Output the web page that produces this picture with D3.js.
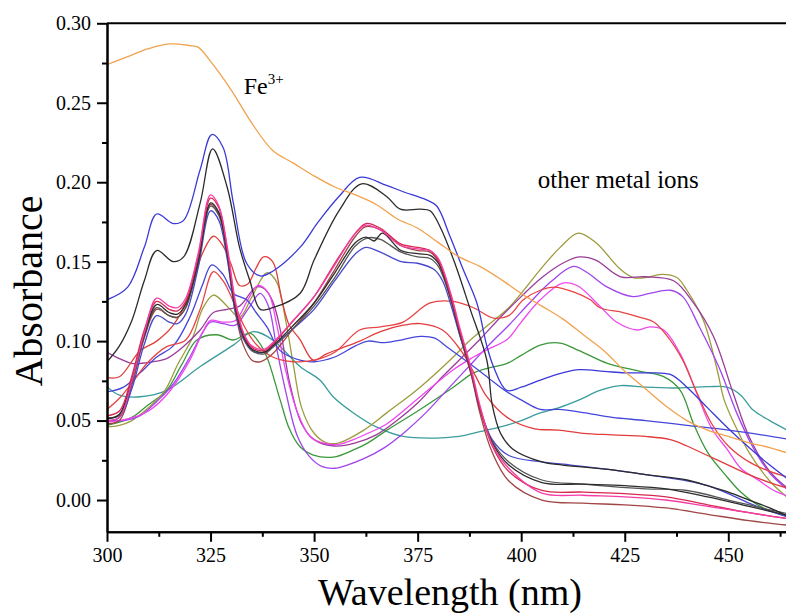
<!DOCTYPE html>
<html>
<head>
<meta charset="utf-8">
<script src="https://cdn.jsdelivr.net/npm/d3@7"></script>
<style>
  body { margin: 0; background: #fff; }
  svg { display: block; }
  .tick text { font-family: "Liberation Serif", "Times New Roman", serif; font-size: 20px; fill: #000; }
  .axis path, .axis line { stroke: #000; stroke-width: 2; }
</style>
</head>
<body>
<script>
// ------------  DATA  (wavelength nm, absorbance)  ------------
const fe3 = [[300,0.274],[305,0.279],[310,0.284],[315,0.287],[320,0.286],[322,0.285],[325,0.276],[330,0.258],[335,0.237],[340,0.220],[345,0.212],[350,0.204],[355,0.197],[360,0.192],[365,0.186],[370,0.177],[375,0.171],[380,0.162],[385,0.153],[390,0.147],[395,0.139],[400,0.130],[405,0.122],[410,0.114],[415,0.104],[420,0.094],[425,0.081],[430,0.070],[435,0.059],[440,0.050],[445,0.044],[450,0.040],[455,0.036],[460,0.033],[465,0.029]];

const blueTop = [[300,0.126],[305,0.134],[309,0.159],[312,0.180],[316,0.174],[318.5,0.176],[322.5,0.208],[325.3,0.230],[328,0.222],[330.5,0.187],[333.7,0.149],[337,0.141],[340,0.144],[346.6,0.159],[351,0.175],[356,0.191],[361,0.203],[367.5,0.198],[371.5,0.194],[377,0.189],[379.6,0.185],[382.8,0.166],[386,0.145],[389.3,0.124],[391.7,0.097],[393.3,0.084],[396.5,0.069],[400,0.071],[404.6,0.0755],[410,0.080],[414,0.082],[420,0.081],[425,0.080],[430,0.080],[436,0.079],[440,0.071],[445,0.058],[450,0.045],[455,0.033],[460,0.022],[465,0.012]];

const blackTop = [[300,0.087],[303,0.097],[306,0.113],[309,0.138],[312,0.157],[316,0.150],[318.5,0.153],[322.5,0.187],[325.5,0.221],[329,0.197],[332,0.159],[334.5,0.138],[337,0.120],[340,0.121],[346.6,0.130],[350,0.151],[356,0.182],[361.5,0.199],[367.5,0.191],[370.8,0.183],[375.6,0.183],[378,0.182],[380.4,0.172],[383.7,0.151],[387.7,0.120],[391.7,0.088],[393,0.060],[395,0.042],[398,0.032],[405,0.024],[410,0.022],[422,0.019],[430,0.016],[440,0.0126],[445,0.009],[450,0.005],[455,0.000],[460,-0.005],[465,-0.011]];

const pinkA = [[300,0.050],[303,0.052],[306,0.075],[309,0.105],[312,0.127],[315,0.122],[317,0.121],[319,0.127],[322,0.155],[325,0.192],[327,0.185],[329,0.160],[331,0.125],[333,0.105],[335,0.097],[338,0.095],[340,0.099],[345,0.113],[350,0.128],[355,0.148],[360,0.168],[362.5,0.173],[366,0.170],[371,0.160],[375,0.158],[378,0.157],[380,0.152],[383,0.130],[385,0.110],[388,0.082],[390,0.060],[393,0.035],[397,0.020],[405,0.0044],[415,0.003],[425,0.002],[435,0.000],[445,-0.004],[455,-0.008],[465,-0.012]];

const crimsonA = [[300,0.053],[303,0.056],[306,0.078],[309,0.107],[312,0.125],[315,0.120],[317,0.119],[319,0.125],[322,0.153],[325,0.190],[327,0.184],[329,0.158],[331,0.123],[333,0.104],[335,0.096],[338,0.094],[340,0.098],[345,0.113],[350,0.128],[355,0.149],[360,0.168],[362.5,0.174],[366,0.171],[371,0.161],[375,0.159],[378,0.157],[380,0.151],[383,0.128],[385,0.108],[388,0.080],[390,0.058],[393,0.034],[397,0.018],[405,0.006],[415,0.005],[425,0.004],[435,0.002],[445,-0.003],[455,-0.008],[465,-0.012]];

const blackA = [[300,0.051],[303,0.054],[306,0.076],[309,0.104],[312,0.123],[315,0.118],[317,0.117],[319,0.123],[322,0.150],[325,0.187],[327,0.181],[329,0.156],[331,0.121],[333,0.103],[335,0.095],[338,0.093],[340,0.097],[345,0.110],[350,0.124],[355,0.143],[360,0.162],[362.5,0.1655],[364.5,0.163],[366.5,0.168],[371,0.157],[375,0.155],[378,0.154],[380,0.149],[383,0.127],[385,0.107],[388,0.080],[390,0.058],[393,0.036],[397,0.022],[405,0.011],[415,0.010],[425,0.009],[435,0.007],[445,0.002],[455,-0.004],[465,-0.010]];

const grayA = [[300,0.052],[303,0.053],[306,0.074],[309,0.103],[312,0.121],[315,0.116],[317,0.115],[319,0.121],[322,0.149],[325,0.185],[327,0.179],[329,0.155],[331,0.120],[333,0.102],[335,0.094],[338,0.092],[340,0.096],[345,0.108],[350,0.122],[355,0.140],[360,0.160],[363,0.165],[366,0.164],[371,0.156],[375,0.153],[378,0.152],[380,0.147],[383,0.126],[385,0.106],[388,0.079],[390,0.058],[393,0.037],[397,0.024],[405,0.0126],[415,0.010],[422,0.0084],[430,0.007],[440,0.006],[450,0.000],[458,-0.005],[465,-0.009]];

const blueA = [[300,0.050],[303,0.052],[306,0.070],[309,0.098],[312,0.116],[315,0.112],[317,0.111],[319,0.117],[322,0.146],[325,0.182],[327,0.176],[329,0.152],[331,0.118],[333,0.101],[335,0.094],[338,0.093],[340,0.097],[345,0.108],[350,0.120],[355,0.138],[360,0.155],[362.5,0.159],[366,0.156],[371,0.150],[375,0.149],[379,0.145],[381,0.138],[383,0.123],[385,0.105],[388,0.079],[390,0.058],[393,0.038],[397,0.028],[405,0.024],[412,0.022],[422,0.019],[430,0.016],[440,0.012],[445,0.009],[450,0.004],[455,-0.002],[460,-0.007],[465,-0.011]];

const brownA = [[300,0.048],[303,0.050],[306,0.072],[309,0.102],[312,0.120],[315,0.116],[317,0.115],[319,0.121],[322,0.150],[325,0.186],[327,0.180],[329,0.154],[331,0.118],[333,0.097],[335,0.088],[337,0.087],[340,0.092],[345,0.108],[350,0.124],[355,0.145],[360,0.166],[362.5,0.172],[366,0.170],[371,0.160],[375,0.157],[378,0.156],[380,0.150],[383,0.127],[385,0.106],[388,0.078],[390,0.055],[393,0.030],[397,0.012],[405,0.000],[415,-0.002],[425,-0.003],[435,-0.005],[445,-0.009],[455,-0.013],[465,-0.016]];

const redB1 = [[300,0.077],[303,0.0776],[308,0.094],[312,0.100],[316,0.110],[320,0.130],[323,0.155],[325.7,0.166],[328,0.160],[330,0.148],[332,0.135],[334,0.136],[336,0.146],[337.8,0.153],[340,0.150],[342.2,0.126],[344,0.110],[346.6,0.101],[349.8,0.088],[353,0.092],[356,0.095],[361,0.100],[366,0.106],[371.5,0.110],[375.6,0.111],[381,0.107],[386,0.092],[389,0.078],[391.7,0.065],[396.6,0.052],[403,0.045],[409,0.044],[415,0.042],[422,0.041],[430,0.040],[436,0.038],[440,0.034],[445,0.028],[450,0.022],[455,0.016],[460,0.011],[465,0.007]];

const redB2 = [[300,0.057],[303,0.064],[306,0.0736],[310,0.087],[314.4,0.0965],[319,0.1007],[322.5,0.120],[325.7,0.1437],[328,0.138],[330.5,0.125],[333,0.110],[336,0.098],[340,0.090],[345,0.087],[350,0.088],[355,0.093],[361,0.107],[366,0.109],[371.5,0.112],[378,0.124],[383.6,0.125],[388.5,0.121],[393.3,0.1145],[397,0.116],[400.5,0.126],[404.6,0.132],[408,0.134],[412.6,0.131],[416.7,0.126],[419,0.121],[424.6,0.118],[428.7,0.115],[432,0.112],[435.3,0.103],[439,0.088],[442.5,0.067],[446,0.048],[450,0.034],[455,0.024],[460,0.018],[465,0.014]];

const blueB = [[300,0.068],[304,0.071],[308,0.080],[312,0.090],[316,0.097],[320,0.115],[323,0.135],[325.3,0.148],[328,0.142],[330.5,0.130],[333.7,0.126],[336,0.118],[338.6,0.109],[341.8,0.094],[346.6,0.088],[350,0.087],[355,0.090],[360,0.097],[363,0.100],[367,0.099],[371.5,0.101],[375.6,0.103],[379,0.102],[382,0.0965],[387,0.087],[392,0.077],[396.6,0.068],[400,0.063],[404.6,0.057],[409,0.057],[415,0.055],[422,0.052],[430,0.050],[440,0.047],[450,0.044],[458,0.041],[465,0.038]];

const teal = [[300,0.0713],[303,0.066],[308,0.065],[314.4,0.069],[322.5,0.084],[330.5,0.0975],[335.3,0.106],[340,0.1007],[346.6,0.084],[351.4,0.0755],[354.6,0.065],[359.5,0.0548],[365,0.046],[371.5,0.040],[379.7,0.039],[385,0.040],[390,0.043],[395,0.046],[400,0.050],[404.6,0.0548],[409,0.058],[414,0.063],[419,0.069],[424,0.072],[430,0.071],[436.7,0.0705],[445,0.0713],[449.7,0.071],[453,0.066],[456,0.0566],[460,0.050],[465,0.043]];

const olive = [[300,0.046],[303,0.047],[306,0.050],[310,0.058],[314,0.069],[317,0.085],[320.8,0.103],[323,0.120],[325.7,0.129],[329,0.122],[332,0.115],[335,0.128],[338.6,0.143],[341,0.137],[343,0.115],[345,0.085],[347,0.058],[350,0.042],[353,0.036],[356,0.036],[362,0.044],[367.6,0.055],[375.6,0.071],[383.6,0.090],[387,0.099],[391,0.108],[396.6,0.120],[400,0.130],[404.6,0.145],[409.4,0.159],[413.8,0.168],[418,0.162],[424,0.145],[427,0.140],[430,0.140],[434,0.142],[437.6,0.140],[440,0.132],[444,0.113],[447.3,0.082],[449,0.063],[452,0.045],[455,0.030],[460,0.012],[465,0.000]];

const purple = [[300,0.093],[303,0.089],[306,0.086],[311,0.087],[314.4,0.089],[318.4,0.0965],[322.5,0.107],[325.7,0.118],[329,0.120],[332,0.122],[336,0.134],[338,0.133],[340,0.125],[342,0.105],[344,0.075],[347,0.048],[350,0.038],[355,0.034],[360,0.036],[365,0.041],[370,0.050],[375,0.061],[380,0.075],[385,0.088],[390,0.101],[395,0.115],[400,0.128],[405,0.140],[410,0.149],[414,0.153],[418,0.151],[424,0.1405],[430,0.1405],[436.8,0.138],[441.6,0.124],[446.4,0.103],[451.2,0.067],[455,0.040],[460,0.018],[465,0.006]];

const violet = [[300,0.050],[304,0.050],[308,0.053],[312,0.062],[316,0.073],[320,0.090],[323,0.105],[325,0.112],[328,0.111],[331,0.110],[334,0.120],[337,0.130],[339,0.122],[341,0.095],[343,0.070],[346,0.040],[349,0.027],[352,0.021],[355,0.020],[358,0.022],[362,0.026],[367,0.033],[372,0.043],[377,0.055],[382,0.069],[387,0.083],[392,0.097],[397,0.110],[402,0.124],[407,0.137],[412.6,0.147],[416,0.143],[420.8,0.134],[427,0.128],[431,0.130],[436,0.132],[439,0.128],[443,0.109],[448,0.082],[452,0.055],[456,0.033],[460,0.017],[465,0.005]];

const magenta = [[300,0.049],[305,0.051],[310,0.056],[315,0.068],[320,0.088],[323,0.105],[325,0.113],[328,0.112],[331,0.113],[334,0.126],[336.5,0.135],[339,0.130],[341,0.110],[343,0.083],[346,0.055],[349,0.040],[352,0.036],[356,0.035],[359.5,0.038],[363,0.042],[367.6,0.048],[375.6,0.065],[383.6,0.082],[388.5,0.090],[392,0.095],[396.6,0.101],[400,0.112],[404.6,0.126],[410,0.1365],[413.5,0.135],[419,0.122],[423,0.112],[428,0.107],[431,0.109],[434.4,0.107],[438.4,0.092],[442.4,0.067],[446,0.045],[449.7,0.032],[453,0.020],[457,0.013],[461,0.006],[465,0.002]];

const green = [[300,0.047],[306,0.052],[310,0.060],[314.4,0.069],[318,0.085],[321.7,0.1007],[326.5,0.104],[330.5,0.1007],[334.5,0.105],[336.5,0.100],[338.6,0.090],[341.8,0.063],[344,0.045],[346.6,0.0335],[349.8,0.0283],[354.6,0.027],[359.5,0.0315],[363,0.036],[367.6,0.044],[375.6,0.057],[383.6,0.071],[388.5,0.080],[392,0.083],[396.6,0.086],[400,0.091],[404.6,0.0975],[409.4,0.0988],[414,0.094],[420.8,0.086],[428.7,0.081],[434.4,0.0776],[438.4,0.069],[441.6,0.048],[445,0.030],[449.7,0.0145],[453,0.005],[457.7,-0.004],[465,-0.011]];

const xMajor = [300, 325, 350, 375, 400, 425, 450];
const yMajor = [0.00, 0.05, 0.10, 0.15, 0.20, 0.25, 0.30];

// ------------  STYLES  ------------
const seriesList = [
  { data: teal, color: "#3a9c9c" },
  { data: green, color: "#3a983a" },
  { data: olive, color: "#9c9c3e" },
  { data: purple, color: "#9a3c9a" },
  { data: violet, color: "#a044ee" },
  { data: magenta, color: "#f046f0" },
  { data: blueB, color: "#4646da" },
  { data: redB1, color: "#e23c3c" },
  { data: redB2, color: "#e84444" },
  { data: brownA, color: "#a04444" },
  { data: blueA, color: "#4848cc" },
  { data: grayA, color: "#555555" },
  { data: blackA, color: "#2c2c2c" },
  { data: crimsonA, color: "#d6284e" },
  { data: pinkA, color: "#f43ca6" },
  { data: blackTop, color: "#2a2a2a" },
  { data: blueTop, color: "#3a3ad8" },
  { data: fe3, color: "#f2a24e" }
];

// ------------  PARAMETERS  ------------
const svgWidth = 786;
const svgHeight = 614;
const plotLeft = 107, plotTop = 23.3, plotBottom = 531.8;
const pxPerNm = 4.142;

const x = d3.scaleLinear().domain([300, 470]).range([plotLeft, plotLeft + 170 * pxPerNm]);
const y = d3.scaleLinear().domain([-0.02, 0.30]).range([plotBottom, plotTop]);

const svg = d3.select("body").append("svg").attr("width", svgWidth).attr("height", svgHeight);

svg.append("clipPath").attr("id", "plot")
  .append("rect").attr("x", plotLeft).attr("y", plotTop)
  .attr("width", 170 * pxPerNm).attr("height", plotBottom - plotTop);

// ------------  LINES  ------------
const line = d3.line()
  .x(d => x(d[0]))
  .y(d => y(d[1]))
  .curve(d3.curveCatmullRom.alpha(0.5));

svg.append("g").attr("clip-path", "url(#plot)")
  .selectAll("path")
  .data(seriesList)
  .enter()
  .append("path")
  .attr("d", d => line(d.data))
  .attr("fill", "none")
  .attr("stroke", d => d.color)
  .attr("stroke-width", 1.3)
  .attr("stroke-linejoin", "round");

// ------------  AXES  ------------
const xMinor = d3.range(300, 470, 12.5).filter(v => !xMajor.includes(v));
const yMinor = d3.range(0.025, 0.30, 0.05);

svg.append("g").attr("class", "axis")
  .attr("transform", "translate(0," + plotBottom + ")")
  .call(d3.axisBottom(x).tickValues(xMinor).tickSize(5).tickSizeOuter(0).tickFormat(""));
svg.append("g").attr("class", "axis")
  .attr("transform", "translate(0," + plotBottom + ")")
  .call(d3.axisBottom(x).tickValues(xMajor).tickSize(10).tickSizeOuter(0).tickPadding(6).tickFormat(d3.format("d")));

svg.append("g").attr("class", "axis")
  .attr("transform", "translate(" + plotLeft + ",0)")
  .call(d3.axisLeft(y).tickValues(yMinor).tickSize(5).tickSizeOuter(0).tickFormat(""));
svg.append("g").attr("class", "axis")
  .attr("transform", "translate(" + plotLeft + ",0)")
  .call(d3.axisLeft(y).tickValues(yMajor).tickSize(10).tickSizeOuter(0).tickPadding(6).tickFormat(d3.format(".2f")));

// top frame
svg.append("line")
  .attr("x1", plotLeft).attr("x2", svgWidth)
  .attr("y1", plotTop).attr("y2", plotTop)
  .attr("stroke", "#000").attr("stroke-width", 2);

// ------------  TITLES & LABELS  ------------
const serif = "'Liberation Serif', 'Times New Roman', serif";

svg.append("text")
  .attr("x", 450).attr("y", 605)
  .attr("text-anchor", "middle")
  .style("font-family", serif).style("font-size", "38px")
  .text("Wavelength (nm)");

svg.append("text")
  .attr("transform", "translate(42,291) rotate(-90)")
  .attr("text-anchor", "middle")
  .style("font-family", serif).style("font-size", "40px")
  .text("Absorbance");

const fe = svg.append("text")
  .attr("x", x(333)).attr("y", y(0.2555))
  .style("font-family", serif).style("font-size", "24px");
fe.append("tspan").text("Fe");
fe.append("tspan").attr("dy", -10).style("font-size", "15px").text("3+");

svg.append("text")
  .attr("x", x(404)).attr("y", y(0.1965))
  .style("font-family", serif).style("font-size", "25px")
  .text("other metal ions");
</script>
</body>
</html>
